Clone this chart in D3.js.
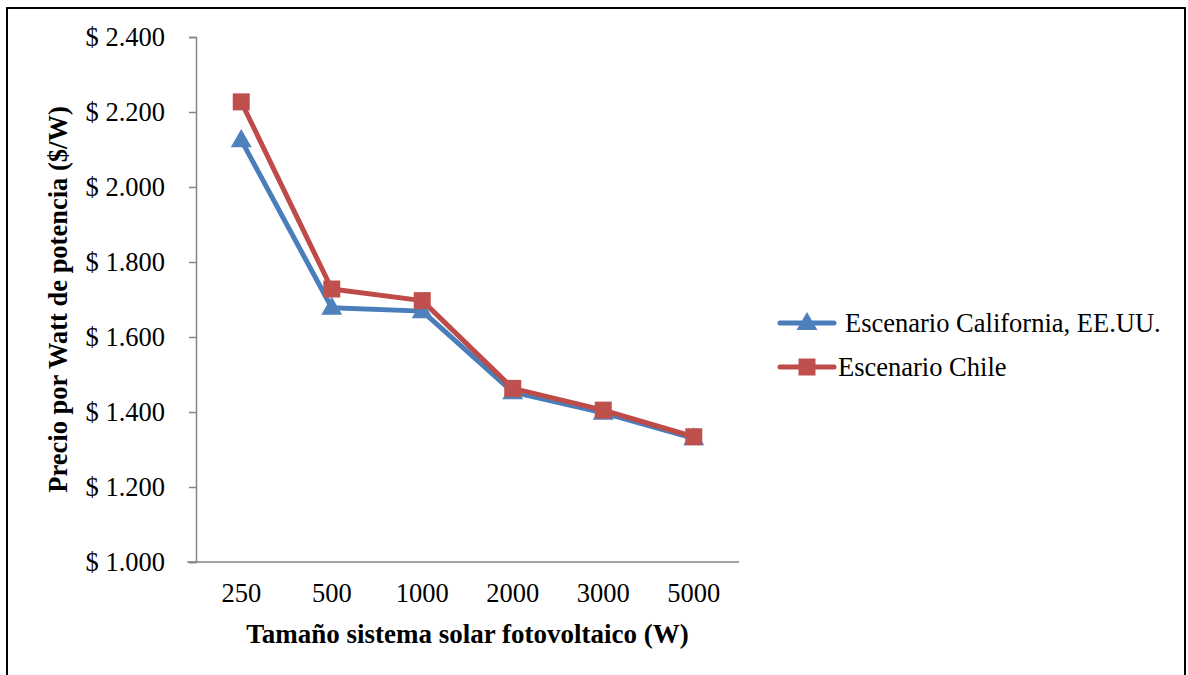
<!DOCTYPE html>
<html>
<head>
<meta charset="utf-8">
<script src="https://cdn.jsdelivr.net/npm/d3@7"></script>
<style>
  html, body { margin: 0; padding: 0; background: #fff; }
  svg { display: block; font-family: "Liberation Serif", "Times New Roman", serif; }
</style>
</head>
<body>
<svg id="chart" width="1188" height="675"></svg>
<script>
// System sizes (W) and price per watt (CLP/W) for each scenario
const categories = ["250", "500", "1000", "2000", "3000", "5000"];
const californiaValues = [2125, 1678, 1669, 1453, 1398, 1330];
const chileValues = [2227, 1728, 1697, 1463, 1405, 1334];
const yTicks = [1000, 1200, 1400, 1600, 1800, 2000, 2200, 2400];

const seriesList = [
  { name: "Escenario California, EE.UU.", values: californiaValues, line: "#4A7EBB", fill: "#4F81BD", marker: "triangle" },
  { name: "Escenario Chile", values: chileValues, line: "#BE4B48", fill: "#C0504D", marker: "square" }
];

const svg = d3.select("#chart");

// outer frame
svg.append("rect")
  .attr("x", 7).attr("y", 8).attr("width", 1178).attr("height", 700)
  .attr("fill", "#fff").attr("stroke", "#000").attr("stroke-width", 2);

const plot = { left: 196, right: 739, top: 37, bottom: 562 };

const x = d3.scaleBand().domain(categories).range([plot.left, plot.right]).padding(0);
const y = d3.scaleLinear().domain([1000, 2400]).range([plot.bottom, plot.top]);
const cx = c => x(c) + x.bandwidth() / 2;

const locale = d3.formatLocale({ decimal: ",", thousands: ".", grouping: [3], currency: ["$ ", ""] });
const money = locale.format("$,");

// y axis
const yAxis = svg.append("g")
  .attr("transform", `translate(${plot.left},0)`)
  .call(d3.axisLeft(y).tickValues(yTicks).tickFormat(money).tickSize(7).tickPadding(24));
yAxis.select(".domain").attr("stroke", "#868686").attr("stroke-width", 1.5);
yAxis.selectAll(".tick line").attr("stroke", "#868686").attr("stroke-width", 1.5);
yAxis.selectAll(".tick text")
  .attr("fill", "#000").attr("font-size", 26.5)
  .attr("font-family", "Liberation Serif, serif");

// x axis
const xAxis = svg.append("g")
  .attr("transform", `translate(0,${plot.bottom})`)
  .call(d3.axisBottom(x).tickSize(0).tickPadding(21));
xAxis.select(".domain").attr("stroke", "#868686").attr("stroke-width", 1.5)
  .attr("d", `M${plot.left - 9},0H${plot.right}`);
xAxis.selectAll(".tick text")
  .attr("fill", "#000").attr("font-size", 26.5)
  .attr("font-family", "Liberation Serif, serif");

// axis titles
svg.append("text")
  .attr("x", (plot.left + plot.right) / 2).attr("y", 643)
  .attr("text-anchor", "middle").attr("font-weight", "bold").attr("font-size", 27)
  .text("Tamaño sistema solar fotovoltaico (W)");

svg.append("text")
  .attr("transform", `translate(67,${(plot.top + plot.bottom) / 2}) rotate(-90)`)
  .attr("text-anchor", "middle").attr("font-weight", "bold").attr("font-size", 26.5)
  .text("Precio por Watt de potencia ($/W)");

const line = d3.line().x((d, i) => cx(categories[i])).y(d => y(d));

const triangle = d3.symbol().type(d3.symbolTriangle).size(190);

function drawMarker(g, type, color, px, py) {
  if (type === "square") {
    g.append("rect")
      .attr("x", px - 8.5).attr("y", py - 8.5).attr("width", 17).attr("height", 17)
      .attr("fill", color);
  } else {
    g.append("path")
      .attr("d", triangle())
      .attr("transform", `translate(${px},${py + 1})`)
      .attr("fill", color);
  }
}

// series lines and markers
seriesList.forEach(s => {
  const g = svg.append("g");
  g.append("path")
    .datum(s.values)
    .attr("d", line)
    .attr("fill", "none").attr("stroke", s.line).attr("stroke-width", 5)
    .attr("stroke-linejoin", "round").attr("stroke-linecap", "round");
  s.values.forEach((v, i) => drawMarker(g, s.marker, s.fill, cx(categories[i]), y(v)));
});

// legend
const legendRows = [
  { s: seriesList[0], y: 323, textX: 845 },
  { s: seriesList[1], y: 367, textX: 838 }
];
legendRows.forEach(r => {
  const g = svg.append("g");
  g.append("line")
    .attr("x1", 780).attr("x2", 834).attr("y1", r.y).attr("y2", r.y)
    .attr("stroke", r.s.line).attr("stroke-width", 5).attr("stroke-linecap", "round");
  drawMarker(g, r.s.marker, r.s.fill, 807, r.y);
  g.append("text")
    .attr("x", r.textX).attr("y", r.y).attr("dy", "0.33em")
    .attr("font-size", 26.5).attr("fill", "#000")
    .text(r.s.name);
});
</script>
</body>
</html>
